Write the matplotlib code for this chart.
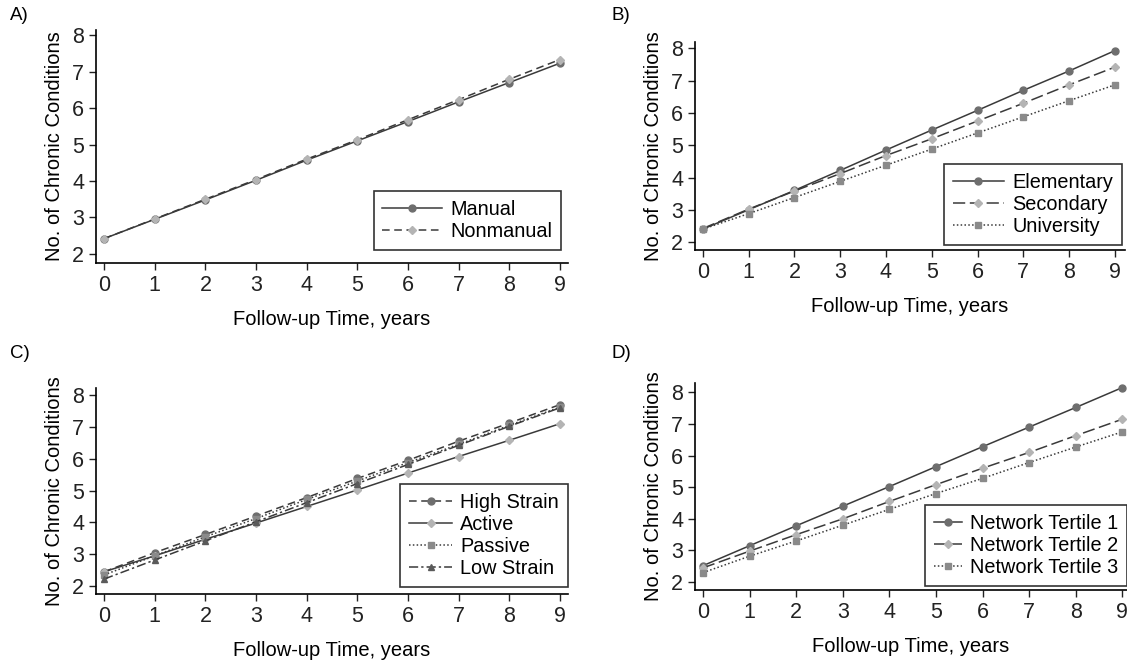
import numpy as np
import matplotlib.pyplot as plt

plt.rcParams['font.family'] = ['Liberation Sans', 'DejaVu Sans']

years = np.arange(0, 10)

# A) occupation
manual = [2.42, 2.95, 3.48, 4.02, 4.57, 5.10, 5.63, 6.17, 6.70, 7.23]
nonmanual = [2.42, 2.96, 3.50, 4.04, 4.60, 5.13, 5.68, 6.23, 6.79, 7.33]

# B) education
elementary = [2.40, 3.00, 3.60, 4.22, 4.85, 5.47, 6.08, 6.70, 7.30, 7.93]
secondary = [2.42, 3.02, 3.58, 4.12, 4.68, 5.20, 5.75, 6.30, 6.87, 7.42]
university = [2.40, 2.88, 3.38, 3.88, 4.38, 4.88, 5.38, 5.88, 6.38, 6.87]

# C) job strain
high_strain = [2.45, 3.05, 3.62, 4.20, 4.78, 5.38, 5.95, 6.55, 7.12, 7.70]
active = [2.45, 2.95, 3.47, 3.98, 4.50, 5.02, 5.55, 6.07, 6.58, 7.10]
passive = [2.35, 2.95, 3.55, 4.12, 4.72, 5.30, 5.88, 6.45, 7.05, 7.62]
low_strain = [2.22, 2.82, 3.42, 4.02, 4.62, 5.22, 5.82, 6.42, 7.02, 7.60]

# D) network
tertile1 = [2.52, 3.15, 3.78, 4.40, 5.02, 5.65, 6.28, 6.90, 7.52, 8.15]
tertile2 = [2.45, 2.98, 3.50, 4.00, 4.55, 5.08, 5.60, 6.10, 6.63, 7.15]
tertile3 = [2.30, 2.82, 3.30, 3.80, 4.30, 4.80, 5.28, 5.78, 6.27, 6.75]

yticks = [2, 3, 4, 5, 6, 7, 8]

line_c = '#3a3a3a'
mk = {'o': '#6e6e6e', 'D': '#b4b4b4', 's': '#8a8a8a', '^': '#5a5a5a'}
long_dash = (0, (8, 3))
dash = (0, (5, 3))
dashdot = (0, (6, 2, 1.5, 2))
dots = (0, (1, 1.5))


def draw(ax, series, xlim, ylim, leg_anchor, handlelen):
    for y, lab, ls, m in series:
        ax.plot(years, y, color=line_c, lw=1.1, linestyle=ls, marker=m,
                markersize=5 if m != 'D' else 4.5, markerfacecolor=mk[m],
                markeredgecolor=mk[m], label=lab)
    ax.set_xlim(*xlim)
    ax.set_ylim(*ylim)
    ax.set_xticks(years)
    ax.set_yticks(yticks)
    ax.spines['top'].set_visible(False)
    ax.spines['right'].set_visible(False)
    ax.spines['left'].set_linewidth(1.2)
    ax.spines['bottom'].set_linewidth(1.2)
    ax.tick_params(labelsize=15.5, length=5, width=1.0, colors='#222222')
    ax.set_xlabel('Follow-up Time, years', fontsize=14.5, labelpad=10)
    ax.set_ylabel('No. of Chronic Conditions', fontsize=14.5, labelpad=6)
    leg = ax.legend(loc='lower right', bbox_to_anchor=leg_anchor, fontsize=14.3,
                    frameon=True, fancybox=False, edgecolor='black',
                    handlelength=handlelen, borderaxespad=0, labelspacing=0.15,
                    handletextpad=0.4, borderpad=0.45)
    leg.get_frame().set_linewidth(1.2)


fig = plt.figure(figsize=(11.27, 6.6), dpi=100)

axA = fig.add_axes([0.0852, 0.6015, 0.4188, 0.353])
draw(axA, [(manual, 'Manual', '-', 'o'), (nonmanual, 'Nonmanual', dash, 'D')],
     (-0.16, 9.16), (1.75, 8.14), (0.985, 0.056), 3.0)

axB = fig.add_axes([0.6167, 0.621, 0.3815, 0.315])
draw(axB, [(elementary, 'Elementary', '-', 'o'), (secondary, 'Secondary', long_dash, 'D'),
           (university, 'University', dots, 's')],
     (-0.17, 9.22), (1.75, 8.19), (0.993, 0.024), 2.6)

axC = fig.add_axes([0.0852, 0.1, 0.4188, 0.312])
draw(axC, [(high_strain, 'High Strain', dash, 'o'), (active, 'Active', '-', 'D'),
           (passive, 'Passive', dots, 's'), (low_strain, 'Low Strain', dashdot, '^')],
     (-0.16, 9.16), (1.75, 8.22), (1.0, 0.034), 2.2)

axD = fig.add_axes([0.6167, 0.106, 0.3833, 0.314])
draw(axD, [(tertile1, 'Network Tertile 1', '-', 'o'), (tertile2, 'Network Tertile 2', long_dash, 'D'),
           (tertile3, 'Network Tertile 3', dots, 's')],
     (-0.17, 9.1), (1.75, 8.3), (1.0, 0.019), 1.4)

for lab, x, y in [('A)', 0.009, 0.99), ('B)', 0.543, 0.99), ('C)', 0.009, 0.478), ('D)', 0.543, 0.478)]:
    fig.text(x, y, lab, fontsize=13.5, va='top', ha='left')

fig.savefig('out.png', dpi=100, facecolor='white')
